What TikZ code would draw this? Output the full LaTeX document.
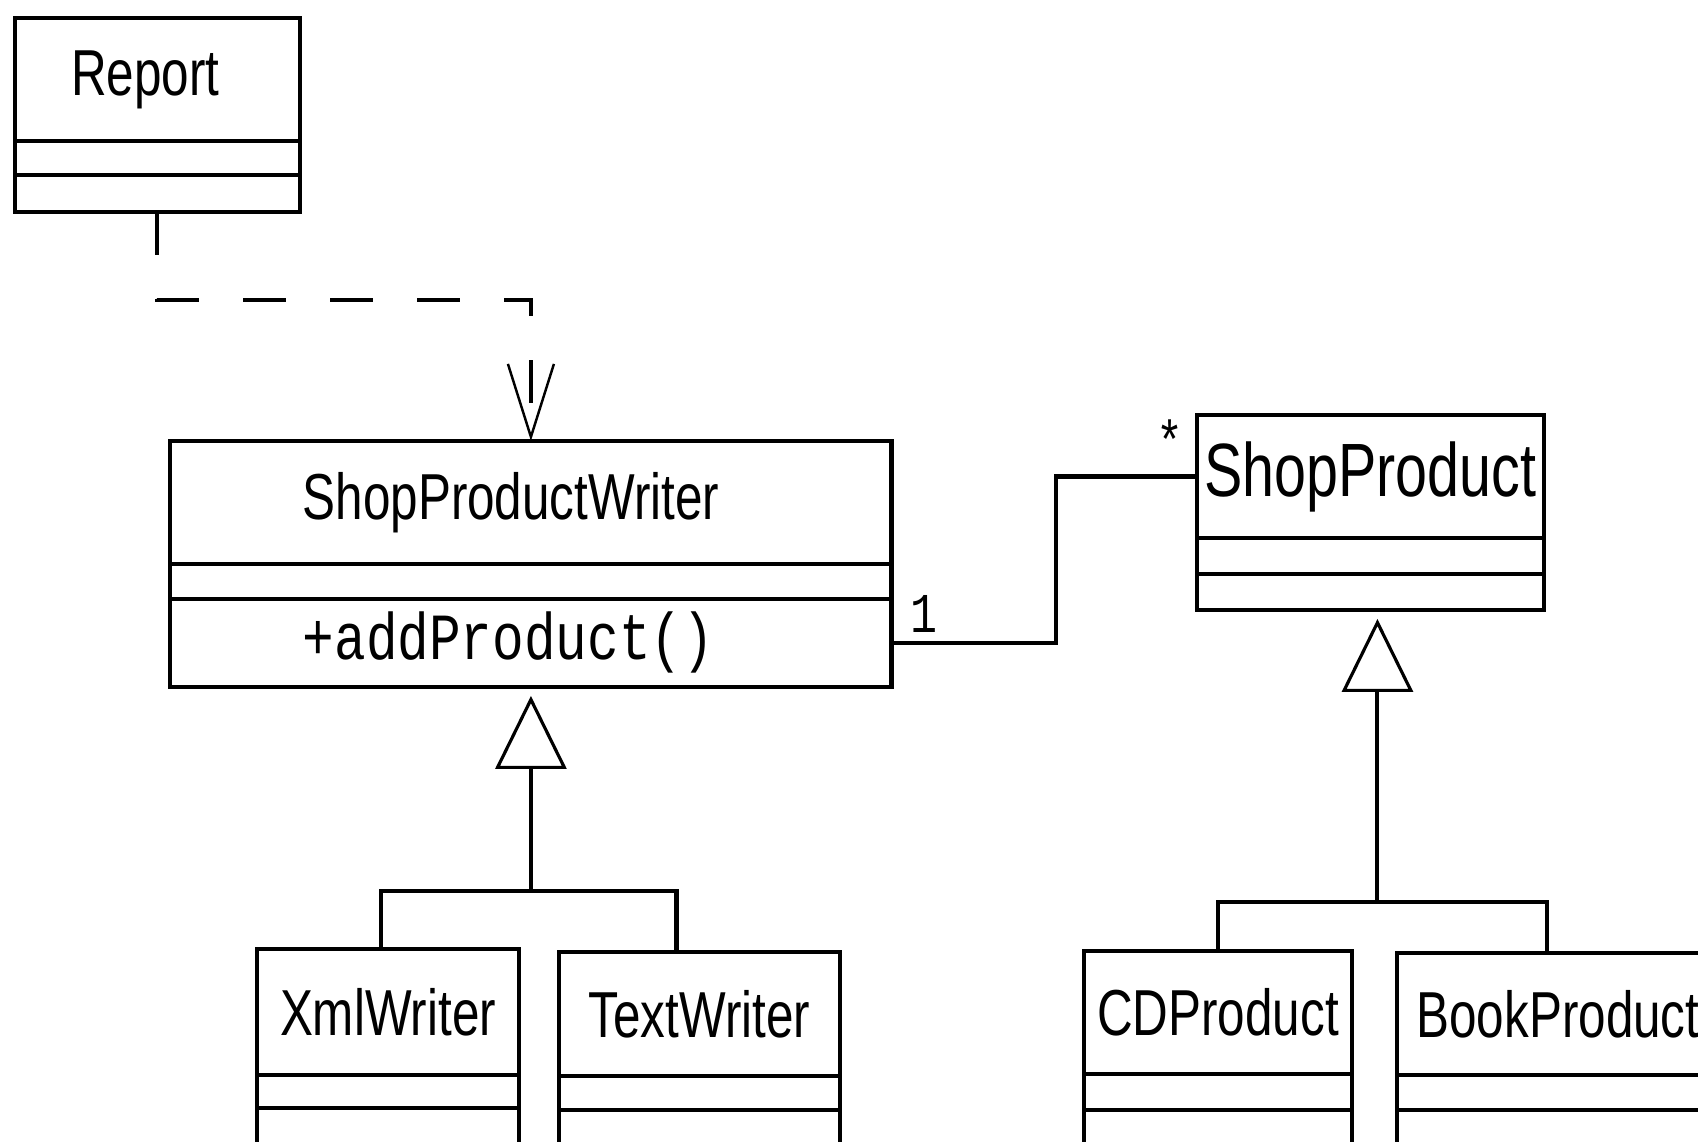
\documentclass[tikz,border=0pt]{standalone}
\usepackage{fontspec}
\setmainfont{Liberation Sans}[FakeStretch=0.76]
\setmonofont{Liberation Mono}[FakeStretch=0.8]
\usetikzlibrary{calc,arrows.meta,positioning}

\begin{document}
\begin{tikzpicture}[x=0.02cm, y=-0.02cm,
  classhead/.style={draw, line width=2.7pt, anchor=north west, inner sep=1pt, outer sep=0pt, minimum height=2.46cm, font=\fontsize{37}{44}\selectfont},
  classpart/.style={draw, line width=2.7pt, inner sep=1pt, outer sep=0pt},
  mult/.style={inner sep=0pt, font=\ttfamily\fontsize{32}{36}\selectfont},
  link/.style={line width=2.3pt},
  depend/.style={link, dash pattern=on 0.86cm off 0.88cm, -{Straight Barb[length=1.46cm, width=0.92cm, line width=1.4pt]}},
  inherit/.style={link, -{Triangle[open, length=1.46cm, width=1.42cm, line width=1.8pt]}, shorten >=0.18cm},
]
  \useasboundingbox (0,0) rectangle (1698,1142);
  \clip (0,0) rectangle (1698,1142);

  % classes
  \node[classhead, minimum width=5.7cm] (report) at (15,18) {Report\hspace*{0.48cm}};
  \node[classpart, below=0pt of report, minimum width=5.7cm, minimum height=0.68cm] (report-attr) {};
  \node[classpart, below=0pt of report-attr, minimum width=5.7cm, minimum height=0.74cm] (report-ops) {};

  \node[classhead, minimum width=14.44cm] (writer) at (170,441) {ShopProductWriter\hspace*{0.8cm}};
  \node[classpart, below=0pt of writer, minimum width=14.44cm, minimum height=0.7cm] (writer-attr) {};
  \node[classpart, below=0pt of writer-attr, minimum width=14.44cm, minimum height=1.76cm,
    font=\ttfamily\fontsize{37.5}{44}\selectfont] (writer-ops) {+addProduct()\hspace*{0.9cm}};

  \node[classhead, minimum width=6.94cm, font=\fontsize{43}{50}\selectfont] (product) at (1197,415) {ShopProduct};
  \node[classpart, below=0pt of product, minimum width=6.94cm, minimum height=0.72cm] (product-attr) {};
  \node[classpart, below=0pt of product-attr, minimum width=6.94cm, minimum height=0.72cm] (product-ops) {};

  \node[classhead, minimum width=5.24cm, minimum height=2.52cm] (xml) at (257,949) {XmlWriter};
  \node[classpart, below=0pt of xml, minimum width=5.24cm, minimum height=0.66cm] (xml-attr) {};
  \node[classpart, below=0pt of xml-attr, minimum width=5.24cm, minimum height=1.4cm] (xml-ops) {};

  \node[classhead, minimum width=5.62cm, minimum height=2.48cm] (text) at (559,952) {TextWriter};
  \node[classpart, below=0pt of text, minimum width=5.62cm, minimum height=0.68cm] (text-attr) {};
  \node[classpart, below=0pt of text-attr, minimum width=5.62cm, minimum height=1.4cm] (text-ops) {};

  \node[classhead, minimum width=5.36cm] (cd) at (1084,951) {CDProduct};
  \node[classpart, below=0pt of cd, minimum width=5.36cm, minimum height=0.72cm] (cd-attr) {};
  \node[classpart, below=0pt of cd-attr, minimum width=5.36cm, minimum height=1.4cm] (cd-ops) {};

  \node[classhead, minimum width=6.44cm, minimum height=2.44cm] (book) at (1397,953) {BookProduct};
  \node[classpart, below=0pt of book, minimum width=6.44cm, minimum height=0.7cm] (book-attr) {};
  \node[classpart, below=0pt of book-attr, minimum width=6.44cm, minimum height=1.4cm] (book-ops) {};

  % dependency
  \draw[depend] (report-ops.south) -- ++(0,88) -| (writer.north);

  % association
  \draw[link] (writer-ops.east) -- ++(164,0) |- (product.west);
  \node[mult] (one) at ($(writer-ops.east)+(32,-29)$) {1};
  \node[mult] (many) at ($(product.west)+(-27,-36)$) {*};

  % inheritance
  \coordinate (writer-fork) at ($(writer-ops.south)+(0,204)$);
  \draw[inherit] (writer-fork) -- (writer-ops.south);
  \draw[link] ([xshift=-0.14cm]xml.north) |- (writer-fork) -| ([xshift=-0.46cm]text.north);

  \coordinate (product-fork) at ($(product-ops.south)+(7,292)$);
  \draw[inherit] (product-fork) -- (product-ops.south -| product-fork);
  \draw[link] (cd.north) |- (product-fork) -| ([xshift=-0.22cm]book.north);
\end{tikzpicture}
\end{document}
